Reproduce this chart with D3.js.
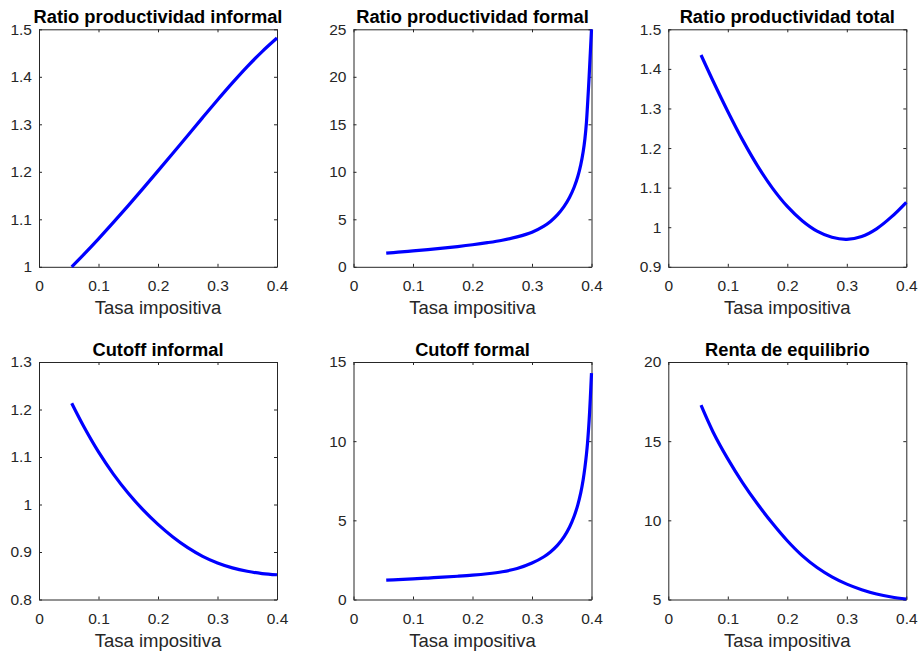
<!DOCTYPE html>
<html>
<head>
<meta charset="utf-8">
<script src="https://cdn.jsdelivr.net/npm/d3@7"></script>
<style>
  html, body { margin: 0; padding: 0; background: #fff; }
  svg { display: block; }
  text { font-family: "Liberation Sans", Arial, Helvetica, sans-serif; }
</style>
</head>
<body>
<svg id="chart" width="920" height="655"></svg>
<script>
// ---------------- DATA ----------------
const xTicks = [0, 0.1, 0.2, 0.3, 0.4];
const xLabel = "Tasa impositiva";

const titulos = [
  "Ratio productividad informal",
  "Ratio productividad formal",
  "Ratio productividad total",
  "Cutoff informal",
  "Cutoff formal",
  "Renta de equilibrio"
];

// tax rate grid (smooth series)
const tasa = [0.055, 0.075, 0.1, 0.125, 0.15, 0.175, 0.2, 0.225, 0.25, 0.275, 0.3, 0.325, 0.35, 0.375, 0.4];
// denser grid near 0.4 for the explosive series
const tasaFormal = [0.055, 0.075, 0.1, 0.125, 0.15, 0.175, 0.2, 0.225, 0.25, 0.275, 0.3, 0.32, 0.331, 0.343, 0.354, 0.363, 0.371, 0.377, 0.382, 0.386, 0.389, 0.3915, 0.3933, 0.396, 0.398, 0.4];

const ratioProdInformal = [1.0, 1.0256, 1.0589, 1.0934, 1.1289, 1.1651, 1.2019, 1.2391, 1.2766, 1.3141, 1.3511, 1.3871, 1.4214, 1.4531, 1.4816];
const ratioProdFormal   = [1.44, 1.54, 1.67, 1.81, 1.96, 2.13, 2.32, 2.54, 2.80, 3.15, 3.64, 4.28, 4.77, 5.49, 6.36, 7.29, 8.4, 9.5, 10.75, 12.1, 13.5, 15.2, 17.0, 20.0, 22.5, 25.0];
const ratioProdTotal    = [1.435, 1.370, 1.2925, 1.22, 1.155, 1.0988, 1.0525, 1.0163, 0.990, 0.9745, 0.9695, 0.9765, 0.996, 1.026, 1.063];
const cutoffInformal    = [1.213, 1.1646, 1.1106, 1.0639, 1.0236, 0.9886, 0.9581, 0.9316, 0.9091, 0.8909, 0.8769, 0.8666, 0.8594, 0.8546, 0.8521];
const cutoffFormal      = [1.22, 1.257, 1.305, 1.355, 1.409, 1.468, 1.537, 1.628, 1.755, 1.954, 2.3, 2.7, 3.0, 3.43, 3.97, 4.56, 5.27, 5.98, 6.75, 7.57, 8.36, 9.17, 9.87, 11.3, 12.69, 14.3];
const rentaEquilibrio   = [17.27, 15.6, 13.88, 12.37, 11.03, 9.81, 8.71, 7.77, 7.02, 6.43, 5.97, 5.62, 5.35, 5.16, 5.03];

const yTicks1 = [1, 1.1, 1.2, 1.3, 1.4, 1.5];
const yTicks2 = [0, 5, 10, 15, 20, 25];
const yTicks3 = [0.9, 1, 1.1, 1.2, 1.3, 1.4, 1.5];
const yTicks4 = [0.8, 0.9, 1, 1.1, 1.2, 1.3];
const yTicks5 = [0, 5, 10, 15];
const yTicks6 = [5, 10, 15, 20];

// ---------------- LAYOUT ----------------
const panels = [
  { title: titulos[0], xs: tasa,       ys: ratioProdInformal, yTicks: yTicks1, left: 39,    top: 29.3 },
  { title: titulos[1], xs: tasaFormal, ys: ratioProdFormal,   yTicks: yTicks2, left: 353.5, top: 29.3 },
  { title: titulos[2], xs: tasa,       ys: ratioProdTotal,    yTicks: yTicks3, left: 668.3, top: 29.3 },
  { title: titulos[3], xs: tasa,       ys: cutoffInformal,    yTicks: yTicks4, left: 39,    top: 362 },
  { title: titulos[4], xs: tasaFormal, ys: cutoffFormal,      yTicks: yTicks5, left: 353.5, top: 362 },
  { title: titulos[5], xs: tasa,       ys: rentaEquilibrio,   yTicks: yTicks6, left: 668.3, top: 362 }
];
const W = 238, H = 237.5;
const axisColor = "#262626";

const svg = d3.select("#chart");
svg.append("rect").attr("width", 920).attr("height", 655).attr("fill", "#fff");

panels.forEach(p => {
  const g = svg.append("g").attr("transform", `translate(${p.left},${p.top})`);
  const x = d3.scaleLinear().domain([0, 0.4]).range([0, W]);
  const yd = d3.extent(p.yTicks);
  const y = d3.scaleLinear().domain(yd).range([H, 0]);
  const fmt = d => String(+d.toFixed(2));

  // axes (ticks inward, mirrored on top/right)
  const axB = d3.axisBottom(x).tickValues(xTicks).tickFormat(fmt).tickSizeInner(-3).tickSizeOuter(0).tickPadding(13);
  const axL = d3.axisLeft(y).tickValues(p.yTicks).tickFormat(fmt).tickSizeInner(-3).tickSizeOuter(0).tickPadding(7);
  const axT = d3.axisTop(x).tickValues(xTicks).tickFormat("").tickSizeInner(-3).tickSizeOuter(0);
  const axR = d3.axisRight(y).tickValues(p.yTicks).tickFormat("").tickSizeInner(-3).tickSizeOuter(0);

  const gb = g.append("g").attr("transform", `translate(0,${H})`).call(axB);
  const gl = g.append("g").call(axL);
  const gt = g.append("g").call(axT);
  const gr = g.append("g").attr("transform", `translate(${W},0)`).call(axR);
  [gb, gl, gt, gr].forEach(a => {
    a.select(".domain").attr("stroke", axisColor).attr("stroke-width", 1);
    a.selectAll(".tick line").attr("stroke", axisColor).attr("stroke-width", 1);
    a.selectAll(".tick text").attr("fill", axisColor).attr("font-size", 15.5).attr("font-family", "Liberation Sans, Arial, sans-serif");
  });

  // line
  const line = d3.line()
    .x((d, i) => x(p.xs[i]))
    .y(d => y(d))
    .curve(d3.curveCatmullRom.alpha(0.5));
  g.append("path")
    .attr("d", line(p.ys))
    .attr("fill", "none")
    .attr("stroke", "#0000ff")
    .attr("stroke-width", 3.2)
    .attr("stroke-linejoin", "round");

  // title
  g.append("text")
    .attr("x", W / 2).attr("y", -6)
    .attr("text-anchor", "middle")
    .attr("font-size", 18.3).attr("font-weight", "bold")
    .attr("fill", "#000")
    .text(p.title);

  // x label
  g.append("text")
    .attr("x", W / 2).attr("y", H + 47)
    .attr("text-anchor", "middle")
    .attr("font-size", 18.5)
    .attr("fill", axisColor)
    .text(xLabel);
});
</script>
</body>
</html>
